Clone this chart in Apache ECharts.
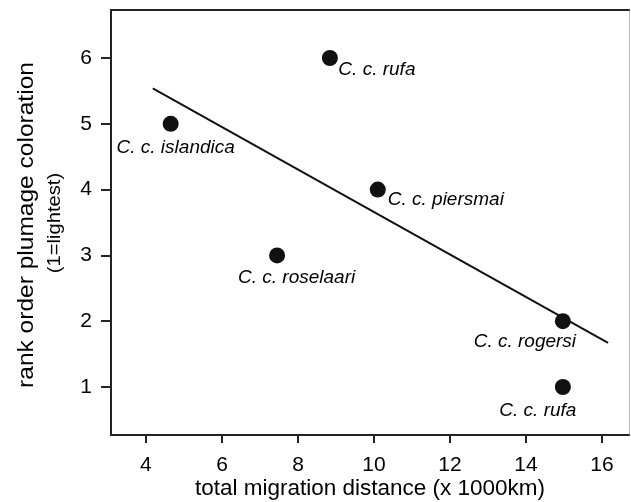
<!DOCTYPE html>
<html><head><meta charset="utf-8">
<script src="https://cdn.jsdelivr.net/npm/echarts@6/dist/echarts.min.js"></script>
<style>html,body{margin:0;padding:0;background:#fff}#c{width:631px;height:502px}</style>
</head><body><div id="c"></div>
<script>
const distance = [4.65, 8.84, 10.1, 7.45, 14.97, 14.97];
const rank = [5, 6, 4, 3, 2, 1];
const names = ['C. c. islandica', 'C. c. rufa', 'C. c. piersmai', 'C. c. roselaari', 'C. c. rogersi', 'C. c. rufa'];
const fitX = [4.18, 16.16];
const fitY = [5.54, 1.67];
const xTicks = [4, 6, 8, 10, 12, 14, 16];
const yTicks = [1, 2, 3, 4, 5, 6];
const yTitle = 'rank order plumage coloration';
const ySubtitle = '(1=lightest)';
const xTitle = 'total migration distance (x 1000km)';

// label offsets (style), relative to the dot centre
const labelOffsets = [[5, 24], [47, 12], [68, 10], [19.5, 22], [-38, 21], [-25, 24]];

const FONT = '"Liberation Sans", Arial, Helvetica, sans-serif';
const chart = echarts.init(document.getElementById('c'), null, {renderer: 'canvas'});
const scatterData = distance.map((d, i) => ({
  value: [d, rank[i]],
  label: {
    show: true, formatter: names[i], position: 'inside', offset: labelOffsets[i],
    align: 'center', verticalAlign: 'middle',
    fontStyle: 'italic', fontSize: 19, color: '#000', fontFamily: FONT
  }
}));
chart.setOption({
  animation: false,
  grid: {left: 111, top: 10, right: 2, bottom: 67, outerBoundsMode: 'none', containLabel: false},
  xAxis: [{
    type: 'value', min: 3.08, max: 16.71,
    axisLine: {lineStyle: {color: '#222', width: 2}},
    axisTick: {show: true, length: 8, lineStyle: {color: '#222', width: 2},
      customValues: xTicks},
    axisLabel: {fontSize: 21, color: '#000', fontFamily: FONT, margin: 20, customValues: xTicks},
    splitLine: {show: false},
    name: xTitle, nameLocation: 'middle', nameGap: 42, nameMoveOverlap: false,
    nameTextStyle: {fontSize: 22.5, color: '#000', fontFamily: FONT}
  }, {
    type: 'value', position: 'top', min: 3.08, max: 16.71,
    axisLine: {show: true, lineStyle: {color: '#222', width: 2}},
    axisTick: {show: false}, axisLabel: {show: false}, splitLine: {show: false}
  }],
  yAxis: [{
    type: 'value', min: 0.27, max: 6.73,
    axisLine: {show: true, lineStyle: {color: '#222', width: 2}},
    axisTick: {show: true, length: 10, lineStyle: {color: '#222', width: 2},
      customValues: yTicks},
    axisLabel: {fontSize: 21, color: '#000', fontFamily: FONT, margin: 19, customValues: yTicks},
    splitLine: {show: false}
  }, {
    type: 'value', position: 'right', min: 0.27, max: 6.73,
    axisLine: {show: true, lineStyle: {color: '#bbb', width: 1}},
    axisTick: {show: false}, axisLabel: {show: false}, splitLine: {show: false}
  }],
  graphic: [{
    type: 'text', x: 27, y: 225, rotation: Math.PI / 2,
    style: {text: yTitle, fontSize: 22.5, fontFamily: FONT, fill: '#000',
      align: 'center', verticalAlign: 'middle'},
    scaleX: 1.09
  }, {
    type: 'text', x: 55, y: 223, rotation: Math.PI / 2,
    style: {text: ySubtitle, fontSize: 18, fontFamily: FONT, fill: '#000',
      align: 'center', verticalAlign: 'middle'},
    scaleX: 1.12
  }],
  series: [{
    type: 'line', data: fitX.map((x, i) => [x, fitY[i]]),
    showSymbol: false, lineStyle: {color: '#111', width: 2}, z: 2
  }, {
    type: 'scatter', data: scatterData, symbolSize: 16,
    itemStyle: {color: '#111', opacity: 1}, z: 3
  }]
});
</script></body></html>
